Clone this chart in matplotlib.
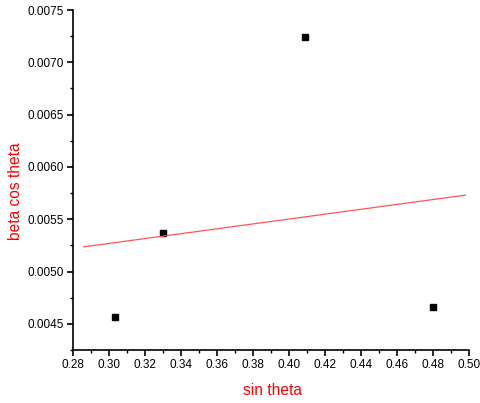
import matplotlib
matplotlib.use("Agg")
import matplotlib.pyplot as plt
import numpy as np
from matplotlib.ticker import MultipleLocator, FormatStrFormatter

plt.rcParams['font.family'] = ['Liberation Sans', 'DejaVu Sans']

sin_theta = [0.3035, 0.3302, 0.4089, 0.4798]
beta_cos_theta = [0.004564, 0.005365, 0.00724, 0.004657]
fit_x_range = [0.286, 0.498]

fig = plt.figure(figsize=(4.81, 4.03), dpi=100)
ax = fig.add_axes([73/481, 53/403, 396/481, 340/403])

ax.plot(sin_theta, beta_cos_theta, 's', color='black', markersize=4.6, linestyle='none')
slope, intercept = np.polyfit(sin_theta, beta_cos_theta, 1)
fx = np.array(fit_x_range)
ax.plot(fx, slope*fx + intercept, color='#ff5555', linewidth=0.9)

ax.set_xlim(0.28, 0.50)
ax.set_ylim(0.00425, 0.0075)
ax.xaxis.set_major_locator(MultipleLocator(0.02))
ax.xaxis.set_minor_locator(MultipleLocator(0.01))
ax.yaxis.set_major_locator(MultipleLocator(0.0005))
ax.yaxis.set_minor_locator(MultipleLocator(0.00025))
ax.xaxis.set_major_formatter(FormatStrFormatter('%.2f'))
ax.yaxis.set_major_formatter(FormatStrFormatter('%.4f'))
ax.spines['top'].set_visible(False)
ax.spines['right'].set_visible(False)
for s in ['left', 'bottom']:
    ax.spines[s].set_linewidth(1.2)
ax.tick_params(which='major', direction='out', length=4.5, width=1.2, labelsize=8.5, pad=2.2)
ax.tick_params(which='minor', direction='out', length=2.5, width=1.0)

ax.set_xlabel('sin theta', color='red', fontsize=11.2)
ax.set_ylabel('beta cos theta', color='red', fontsize=11.2)
ax.xaxis.set_label_coords(0.504, -0.097)
ax.yaxis.set_label_coords(-0.1275, 0.468)

fig.savefig('out.png', dpi=100)
